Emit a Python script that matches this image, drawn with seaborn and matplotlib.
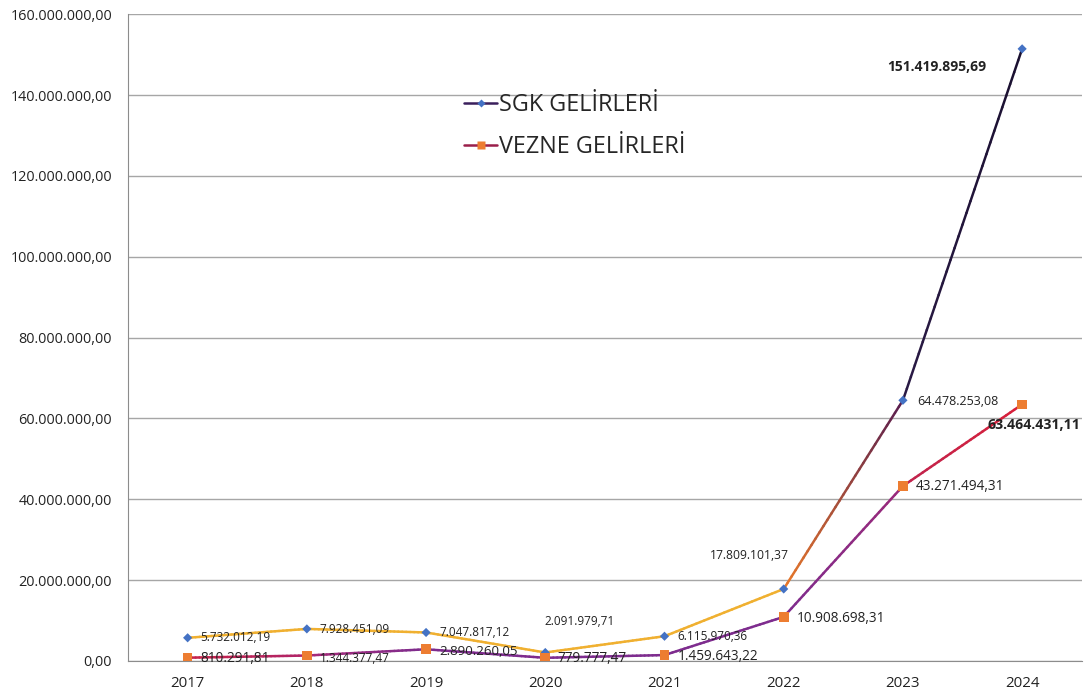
import seaborn as sns
import matplotlib.pyplot as plt
import numpy as np
import pandas as pd
from matplotlib.collections import LineCollection
from matplotlib.colors import to_rgb
from matplotlib.lines import Line2D
from matplotlib.ticker import FuncFormatter

years = ['2017', '2018', '2019', '2020', '2021', '2022', '2023', '2024']
sgk = [5732012.19, 7928451.09, 7047817.12, 2091979.71, 6115970.36,
       17809101.37, 64478253.08, 151419895.69]
vezne = [810291.81, 1344377.47, 2890260.05, 779777.47, 1459643.22,
         10908698.31, 43271494.31, 63464431.11]
sgk_labels = ['5.732.012,19', '7.928.451,09', '7.047.817,12', '2.091.979,71',
              '6.115.970,36', '17.809.101,37', '64.478.253,08', '151.419.895,69']
vezne_labels = ['810.291,81', '1.344.377,47', '2.890.260,05', '779.777,47',
                '1.459.643,22', '10.908.698,31', '43.271.494,31', '63.464.431,11']

# segment colours (start, end) like the original excel export
sgk_seg = [('#F0B030', '#F0B030')] * 5 + [('#E8782A', '#5A1E4E'), ('#2A1A45', '#1A1030')]
vezne_seg = [('#C8234A', '#B02468'), ('#A82A78', '#7E2C8E')] + [('#7E2C8E', '#7E2C8E')] * 3 + \
            [('#7E2C8E', '#9A2A7A'), ('#C0244E', '#D8203A')]

sns.set_style('white')
plt.rcParams['font.family'] = ['Open Sans', 'DejaVu Sans']

fig = plt.figure(figsize=(10.85, 6.94), dpi=100)
ax = fig.add_axes([0.118, 0.0476, 0.879, 0.932])

x = np.arange(len(years))


def draw_segments(vals, segs):
    for i, (c0, c1) in enumerate(segs):
        n = 30
        xs = np.linspace(x[i], x[i + 1], n + 1)
        ys = np.linspace(vals[i], vals[i + 1], n + 1)
        pts = np.column_stack([xs, ys]).reshape(-1, 1, 2)
        s = np.concatenate([pts[:-1], pts[1:]], axis=1)
        a, b = np.array(to_rgb(c0)), np.array(to_rgb(c1))
        cols = [a + (b - a) * t for t in np.linspace(0, 1, n)]
        ax.add_collection(LineCollection(s, colors=cols, linewidths=1.8, zorder=3,
                                         capstyle='round'))


draw_segments(sgk, sgk_seg)
draw_segments(vezne, vezne_seg)

df = pd.DataFrame({'x': np.concatenate([x, x]),
                   'v': sgk + vezne,
                   'seri': ['SGK'] * 8 + ['VEZNE'] * 8})
sns.scatterplot(data=df[df.seri == 'SGK'], x='x', y='v', marker='D', s=22,
                color='#4472C4', edgecolor='none', ax=ax, zorder=4)
sns.scatterplot(data=df[df.seri == 'VEZNE'], x='x', y='v', marker='s', s=48,
                color='#ED7D31', edgecolor='none', ax=ax, zorder=4)

# data labels (offsets in pixels, converted to points)
sgk_off = [(13, 0), (13, -1), (13, 0), (-1, 31), (13, 0), (-74, 33), (14, -1), (-135, -18)]
vezne_off = [(13, -1), (13, -3), (13, -2), (12, -1), (13, -1), (13, -2), (13, 0), (-35, -21)]
sgk_fs = [8.5, 8.5, 8.5, 8.5, 8.5, 8.7, 9, 10]
vezne_fs = [9.8, 8.5, 9.5, 9.8, 9.8, 9.8, 9.8, 10.2]
px = 0.72
for i in range(8):
    bold = i == 7
    ax.annotate(sgk_labels[i], (x[i], sgk[i]),
                xytext=(sgk_off[i][0] * px, sgk_off[i][1] * px), textcoords='offset points',
                fontsize=sgk_fs[i], fontweight='bold' if bold else 'normal',
                color='#222222', va='center', ha='left', zorder=5)
    ax.annotate(vezne_labels[i], (x[i], vezne[i]),
                xytext=(vezne_off[i][0] * px, vezne_off[i][1] * px), textcoords='offset points',
                fontsize=vezne_fs[i], fontweight='bold' if bold else 'normal',
                color='#222222', va='center', ha='left', zorder=5)

ax.set_xlim(-0.5, 7.5)
ax.set_ylim(0, 160000000)
ax.set_yticks(np.arange(0, 160000001, 20000000))
ax.yaxis.set_major_formatter(FuncFormatter(
    lambda v, p: '{:,.2f}'.format(v).replace(',', 'X').replace('.', ',').replace('X', '.')))
ax.set_xticks(x)
ax.set_xticklabels(years)
ax.set_xticks(np.arange(-0.5, 8, 1), minor=True)
ax.tick_params(axis='x', which='major', length=0, pad=11, labelsize=10.8, colors='#222222')
ax.tick_params(axis='x', which='minor', length=4, color='#8C8C8C', direction='out')
ax.tick_params(axis='y', length=4, color='#8C8C8C', direction='out', labelsize=10.4,
               labelcolor='#222222', pad=7.5)
ax.grid(axis='y', color='#A6A6A6', linewidth=1)
ax.set_axisbelow(True)
for sp in ['top', 'right']:
    ax.spines[sp].set_visible(False)
for sp in ['left', 'bottom']:
    ax.spines[sp].set_color('#8C8C8C')
ax.set_xlabel('')
ax.set_ylabel('')

handles = [Line2D([], [], color='#3A1F5C', lw=1.8, marker='D', markersize=4,
                  markerfacecolor='#4472C4', markeredgecolor='none'),
           Line2D([], [], color='#9A1F4A', lw=1.8, marker='s', markersize=6,
                  markerfacecolor='#ED7D31', markeredgecolor='none')]
ax.legend(handles, ['SGK GELİRLERİ', 'VEZNE GELİRLERİ'], loc='upper left',
          bbox_to_anchor=(0.343, 0.892), frameon=False, fontsize=16.8, handlelength=1.4,
          handletextpad=0.1, labelspacing=0.75, borderaxespad=0)

fig.savefig('out.png', dpi=100)
